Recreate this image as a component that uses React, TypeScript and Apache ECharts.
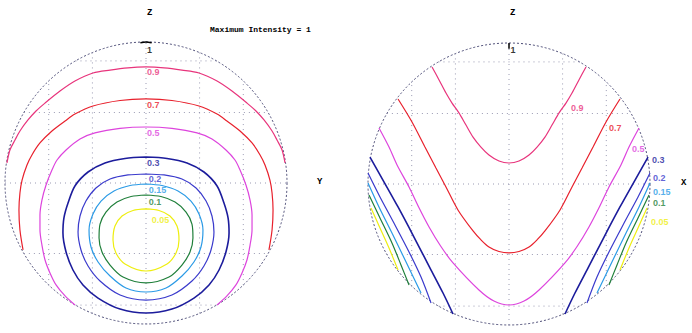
import React, { useEffect, useRef } from "react";
import * as echarts from "echarts";

// Contour levels (intensity) and their labels
const levels = ["1", "0.9", "0.7", "0.5", "0.3", "0.2", "0.15", "0.1", "0.05"];
const levelColors = ["#000000", "#e8347c", "#e8202c", "#dd44dd", "#1c1c9c", "#3a3acc", "#2a9ae6", "#1f7f3a", "#eeee10"];

// ---- Left hemisphere (Y–Z view), coordinates in projected sphere units (-1..1) ----
const leftC1 = [[-0.04, 0.995], [0, 1.0], [0.04, 0.995]];
const leftC09 = [[-0.986, 0.142], [-0.965, 0.234], [-0.929, 0.305], [-0.894, 0.369], [-0.837, 0.447], [-0.78, 0.511], [-0.716, 0.567], [-0.61, 0.652], [-0.504, 0.723], [-0.376, 0.78], [-0.255, 0.801], [-0.128, 0.817], [0, 0.823], [0.128, 0.817], [0.255, 0.801], [0.376, 0.78], [0.504, 0.723], [0.61, 0.652], [0.716, 0.567], [0.78, 0.511], [0.837, 0.447], [0.894, 0.369], [0.929, 0.305], [0.965, 0.234], [0.986, 0.142]];
const leftC07 = [[-0.872, -0.475], [-0.894, -0.333], [-0.901, -0.191], [-0.894, -0.071], [-0.879, 0.021], [-0.844, 0.128], [-0.809, 0.199], [-0.752, 0.284], [-0.667, 0.369], [-0.574, 0.44], [-0.504, 0.489], [-0.376, 0.546], [-0.184, 0.585], [0, 0.596], [0.184, 0.585], [0.376, 0.546], [0.504, 0.489], [0.574, 0.44], [0.667, 0.369], [0.752, 0.284], [0.809, 0.199], [0.844, 0.128], [0.879, 0.021], [0.894, -0.071], [0.901, -0.191], [0.894, -0.333], [0.872, -0.475]];
const leftC05 = [[-0.504, -0.865], [-0.574, -0.801], [-0.638, -0.723], [-0.681, -0.638], [-0.716, -0.546], [-0.738, -0.44], [-0.752, -0.333], [-0.752, -0.227], [-0.738, -0.121], [-0.709, -0.014], [-0.667, 0.092], [-0.631, 0.163], [-0.567, 0.234], [-0.468, 0.312], [-0.362, 0.355], [-0.184, 0.387], [0, 0.397], [0.184, 0.387], [0.362, 0.355], [0.468, 0.312], [0.567, 0.234], [0.631, 0.163], [0.667, 0.092], [0.709, -0.014], [0.738, -0.121], [0.752, -0.227], [0.752, -0.333], [0.738, -0.44], [0.716, -0.546], [0.681, -0.638], [0.638, -0.723], [0.574, -0.801], [0.504, -0.865]];
const leftC03 = [[0, 0.184], [-0.149, 0.174], [-0.291, 0.142], [-0.411, 0.078], [-0.504, -0.021], [-0.553, -0.142], [-0.582, -0.248], [-0.589, -0.355], [-0.567, -0.489], [-0.518, -0.617], [-0.447, -0.723], [-0.34, -0.816], [-0.184, -0.894], [0, -0.922], [0.184, -0.894], [0.34, -0.816], [0.447, -0.723], [0.518, -0.617], [0.567, -0.489], [0.589, -0.355], [0.582, -0.248], [0.553, -0.142], [0.504, -0.021], [0.411, 0.078], [0.291, 0.142], [0.149, 0.174], [0, 0.184]];
const leftC02 = [[0, 0.064], [-0.128, 0.057], [-0.255, 0.028], [-0.355, -0.035], [-0.426, -0.128], [-0.468, -0.234], [-0.482, -0.348], [-0.461, -0.475], [-0.411, -0.589], [-0.326, -0.695], [-0.184, -0.794], [0, -0.83], [0.184, -0.794], [0.326, -0.695], [0.411, -0.589], [0.461, -0.475], [0.482, -0.348], [0.468, -0.234], [0.426, -0.128], [0.355, -0.035], [0.255, 0.028], [0.128, 0.057], [0, 0.064]];
const leftC015 = [[0, -0.007], [-0.113, -0.018], [-0.227, -0.057], [-0.319, -0.128], [-0.376, -0.22], [-0.404, -0.333], [-0.39, -0.454], [-0.34, -0.56], [-0.255, -0.66], [-0.142, -0.745], [0, -0.773], [0.142, -0.745], [0.255, -0.66], [0.34, -0.56], [0.39, -0.454], [0.404, -0.333], [0.376, -0.22], [0.319, -0.128], [0.227, -0.057], [0.113, -0.018], [0, -0.007]];
const leftC01 = [[0, -0.085], [-0.106, -0.096], [-0.206, -0.135], [-0.284, -0.206], [-0.326, -0.291], [-0.333, -0.39], [-0.312, -0.489], [-0.255, -0.582], [-0.163, -0.667], [0, -0.709], [0.163, -0.667], [0.255, -0.582], [0.312, -0.489], [0.333, -0.39], [0.326, -0.291], [0.284, -0.206], [0.206, -0.135], [0.106, -0.096], [0, -0.085]];
const leftC005 = [[0, -0.184], [-0.092, -0.195], [-0.17, -0.234], [-0.22, -0.305], [-0.234, -0.404], [-0.213, -0.496], [-0.149, -0.574], [0, -0.624], [0.149, -0.574], [0.213, -0.496], [0.234, -0.404], [0.22, -0.305], [0.17, -0.234], [0.092, -0.195], [0, -0.184]];
const leftLabelPos = [[0.007, 0.943], [0.007, 0.787], [0.007, 0.553], [0.007, 0.355], [0.007, 0.142], [0.02, 0.028], [0.02, -0.05], [0.02, -0.135], [0.04, -0.262]];

// ---- Right hemisphere (X–Z view) ----
const rightC1 = [[0, 1.0], [0, 0.96]];
const rightC09 = [[-0.546, 0.83], [-0.496, 0.738], [-0.447, 0.645], [-0.404, 0.574], [-0.355, 0.504], [-0.305, 0.418], [-0.255, 0.333], [-0.199, 0.262], [-0.142, 0.206], [-0.071, 0.163], [0, 0.149], [0.071, 0.163], [0.142, 0.206], [0.199, 0.262], [0.255, 0.333], [0.305, 0.418], [0.355, 0.504], [0.404, 0.574], [0.447, 0.645], [0.496, 0.738], [0.546, 0.83]];
const rightC07 = [[-0.787, 0.603], [-0.688, 0.44], [-0.596, 0.262], [-0.518, 0.113], [-0.447, -0.021], [-0.362, -0.184], [-0.255, -0.333], [-0.2, -0.395], [-0.142, -0.447], [-0.071, -0.479], [0, -0.489], [0.071, -0.479], [0.142, -0.447], [0.2, -0.395], [0.255, -0.333], [0.362, -0.184], [0.447, -0.021], [0.518, 0.113], [0.596, 0.262], [0.688, 0.44], [0.787, 0.603]];
const rightC05 = [[-0.922, 0.397], [-0.851, 0.262], [-0.794, 0.135], [-0.709, -0.021], [-0.64, -0.165], [-0.567, -0.305], [-0.485, -0.44], [-0.397, -0.56], [-0.213, -0.752], [-0.107, -0.83], [0, -0.858], [0.107, -0.83], [0.213, -0.752], [0.397, -0.56], [0.485, -0.44], [0.567, -0.305], [0.64, -0.165], [0.709, -0.021], [0.794, 0.135], [0.851, 0.262], [0.922, 0.397]];
const rightC03L = [[-0.986, 0.191], [-0.894, 0.028], [-0.787, -0.163], [-0.674, -0.376], [-0.56, -0.596], [-0.468, -0.773], [-0.397, -0.922]];
const rightC03R = [[0.986, 0.191], [0.894, 0.028], [0.787, -0.163], [0.674, -0.376], [0.56, -0.596], [0.468, -0.773], [0.397, -0.922]];
const rightC02L = [[-1.0, 0.078], [-0.915, -0.092], [-0.816, -0.277], [-0.709, -0.482], [-0.624, -0.66], [-0.553, -0.844]];
const rightC02R = [[1.0, 0.078], [0.915, -0.092], [0.816, -0.277], [0.709, -0.482], [0.624, -0.66], [0.553, -0.844]];
const rightC015L = [[-1.0, 0.007], [-0.922, -0.163], [-0.83, -0.348], [-0.73, -0.553], [-0.624, -0.773]];
const rightC015R = [[1.0, 0.007], [0.922, -0.163], [0.83, -0.348], [0.73, -0.553], [0.624, -0.773]];
const rightC01L = [[-0.993, -0.078], [-0.915, -0.241], [-0.83, -0.418], [-0.766, -0.574], [-0.709, -0.716]];
const rightC01R = [[0.993, -0.078], [0.915, -0.241], [0.83, -0.418], [0.766, -0.574], [0.709, -0.716]];
const rightC005L = [[-0.979, -0.17], [-0.915, -0.312], [-0.851, -0.454], [-0.787, -0.61]];
const rightC005R = [[0.979, -0.17], [0.915, -0.312], [0.851, -0.454], [0.787, -0.61]];
const rightLabelPos = [[0.01, 0.95], [0.44, 0.539], [0.709, 0.397], [0.872, 0.248], [1.014, 0.17], [1.021, 0.043], [1.021, -0.057], [1.021, -0.135], [1.007, -0.27]];

// Graticule rows/columns (projected units)
const gridRows = [0.866, 0.5, 0, -0.5, -0.866];
const gridCols = [-0.69, -0.38, 0, 0.38, 0.69];

const leftContours: [number, number[][]][] = [
  [0, leftC1], [1, leftC09], [2, leftC07], [3, leftC05], [4, leftC03], [5, leftC02], [6, leftC015], [7, leftC01], [8, leftC005],
];
const rightContours: [number, number[][]][] = [
  [0, rightC1], [1, rightC09], [2, rightC07], [3, rightC05],
  [4, rightC03L], [4, rightC03R], [5, rightC02L], [5, rightC02R],
  [6, rightC015L], [6, rightC015R], [7, rightC01L], [7, rightC01R], [8, rightC005L], [8, rightC005R],
];

export default function App() {
  const ref = useRef<HTMLDivElement>(null);
  useEffect(() => {
    if (!ref.current) return;
    const chart = echarts.init(ref.current, null, { renderer: "svg" });
    const series: any[] = [];
    const gridLineStyle = { color: "#8a8aa6", width: 1, type: [1, 4] as any, opacity: 0.85 };

    [0, 1].forEach((g) => {
      gridRows.forEach((v) => {
        const h = Math.sqrt(Math.max(0, 1 - v * v));
        series.push({
          type: "line", xAxisIndex: g, yAxisIndex: g, data: [[-h, v], [h, v]],
          symbol: "none", lineStyle: gridLineStyle, z: 1, silent: true,
        });
      });
      gridCols.forEach((u) => {
        const h = Math.sqrt(Math.max(0, 1 - u * u));
        series.push({
          type: "line", xAxisIndex: g, yAxisIndex: g, data: [[u, -h], [u, h]],
          symbol: "none", lineStyle: gridLineStyle, z: 1, silent: true,
        });
      });
    });

    const addContours = (list: [number, number[][]][], g: number) => {
      list.forEach(([li, pts]) => {
        series.push({
          type: "line", xAxisIndex: g, yAxisIndex: g, data: pts, smooth: 0.3,
          symbol: "none", clip: false,
          lineStyle: { color: levelColors[li], width: li === 4 ? 1.6 : li === 0 ? 1.5 : 1.2 },
          z: 3, silent: true,
        });
      });
    };
    addContours(leftContours, 0);
    addContours(rightContours, 1);

    const addLabels = (pos: number[][], g: number) => {
      pos.forEach((p, i) => {
        series.push({
          type: "scatter", xAxisIndex: g, yAxisIndex: g, data: [p], symbolSize: 0, clip: false,
          label: {
            show: true, position: "right", distance: 0, formatter: levels[i],
            color: levelColors[i], fontSize: 9, fontWeight: "bold", fontFamily: "Liberation Sans",
          },
          z: 4, silent: true,
        });
      });
    };
    addLabels(leftLabelPos, 0);
    addLabels(rightLabelPos, 1);

    const axisTitle = { fontSize: 9, fontWeight: "bold", fontFamily: "Liberation Mono", color: "#000" };
    const hiddenAxis = (g: number) => ({
      type: "value", gridIndex: g, min: -1, max: 1, show: false,
    });

    chart.setOption({
      animation: false,
      backgroundColor: "#ffffff",
      title: [
        { text: "Z", left: 147, top: 8, padding: 0, textStyle: axisTitle },
        { text: "Maximum Intensity = 1", left: 210, top: 25, padding: 0, textStyle: { ...axisTitle, fontSize: 8 } },
        { text: "Y", left: 317, top: 177, padding: 0, textStyle: axisTitle },
        { text: "Z", left: 510, top: 8, padding: 0, textStyle: axisTitle },
        { text: "X", left: 681, top: 178, padding: 0, textStyle: axisTitle },
      ],
      grid: [
        { left: 5, top: 42, width: 282, height: 282 },
        { left: 368, top: 43, width: 282, height: 282 },
      ],
      xAxis: [hiddenAxis(0), hiddenAxis(1)],
      yAxis: [hiddenAxis(0), hiddenAxis(1)],
      polar: [
        { center: [146, 183], radius: 141 },
        { center: [509, 184], radius: 141 },
      ],
      angleAxis: [0, 1].map((p) => ({
        polarIndex: p, type: "value", min: 0, max: 360,
        axisLine: { show: true, lineStyle: { color: "#4e4e78", width: 1, type: [2, 2] } },
        axisTick: { show: false }, axisLabel: { show: false }, splitLine: { show: false },
      })),
      radiusAxis: [0, 1].map((p) => ({
        polarIndex: p, type: "value", min: 0, max: 1, show: false,
        axisLine: { show: false }, splitLine: { show: false },
      })),
      series,
    });
    return () => chart.dispose();
  }, []);
  return <div ref={ref} style={{ position: "fixed", left: 0, top: 0, width: 692, height: 333 }} />;
}
